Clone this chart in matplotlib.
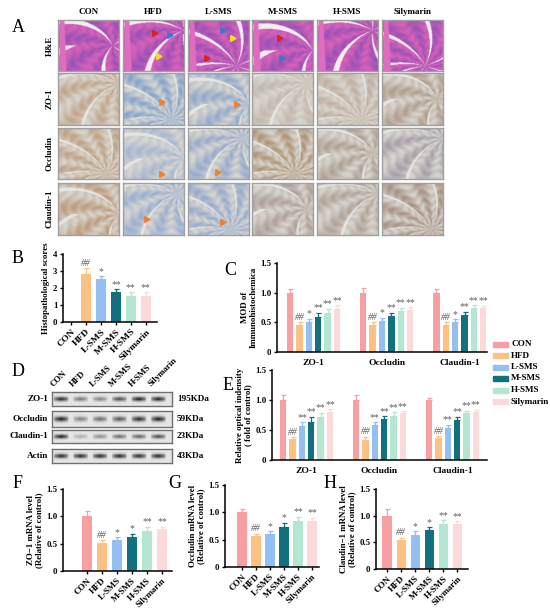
import matplotlib
matplotlib.use('Agg')
import matplotlib.pyplot as plt
import numpy as np
from matplotlib.patches import Rectangle

plt.rcParams['font.family'] = ['Liberation Serif', 'DejaVu Serif']
plt.rcParams['font.weight'] = 'bold'
plt.rcParams['axes.labelweight'] = 'bold'

# ---- data ----
groups = ['CON', 'HFD', 'L-SMS', 'M-SMS', 'H-SMS', 'Silymarin']
colors = ['#F7A0A3', '#FDC283', '#93BFF2', '#12707F', '#B5E6D2', '#FCDADA']
proteins = ['ZO-1', 'Occludin', 'Claudin-1']
stain_rows = ['H&E', 'ZO-1', 'Occludin', 'Claudin-1']

hist_scores = [0.0, 2.85, 2.5, 1.75, 1.55, 1.55]
hist_err = [0.0, 0.3, 0.2, 0.2, 0.22, 0.2]
hist_marks = ['', '##', '*', '**', '**', '**']

mod_vals = [[1.0, 0.45, 0.50, 0.59, 0.65, 0.72],
            [1.0, 0.46, 0.53, 0.61, 0.69, 0.71],
            [1.0, 0.46, 0.50, 0.63, 0.74, 0.75]]
mod_err = [[0.07, 0.05, 0.06, 0.07, 0.08, 0.07],
           [0.08, 0.04, 0.05, 0.05, 0.06, 0.05],
           [0.06, 0.04, 0.05, 0.05, 0.05, 0.03]]
mod_marks = ['', '##', '*', '**', '**', '**']

wb_vals = [[1.0, 0.35, 0.56, 0.64, 0.71, 0.80],
           [1.0, 0.34, 0.58, 0.68, 0.74, 0.78],
           [1.0, 0.36, 0.54, 0.67, 0.78, 0.80]]
wb_err = [[0.08, 0.03, 0.07, 0.08, 0.08, 0.05],
          [0.09, 0.05, 0.05, 0.05, 0.06, 0.03],
          [0.03, 0.04, 0.05, 0.05, 0.04, 0.04]]
wb_marks = ['', '##', '**', '**', '**', '**']

blot_rows = ['ZO-1', 'Occludin', 'Claudin-1', 'Actin']
blot_kda = ['195KDa', '59KDa', '23KDa', '43KDa']
blot_bands = [[0.85, 0.50, 0.45, 0.70, 0.90, 0.88],
              [0.90, 0.45, 0.55, 0.65, 0.85, 0.90],
              [0.90, 0.25, 0.40, 0.55, 0.60, 0.70],
              [0.85, 0.85, 0.85, 0.85, 0.85, 0.85]]

zo1_mrna = [1.0, 0.51, 0.57, 0.62, 0.74, 0.76]
zo1_mrna_err = [0.09, 0.06, 0.05, 0.06, 0.07, 0.05]
occ_mrna = [1.0, 0.56, 0.61, 0.73, 0.85, 0.85]
occ_mrna_err = [0.07, 0.05, 0.04, 0.08, 0.07, 0.05]
cld_mrna = [1.0, 0.54, 0.64, 0.73, 0.84, 0.85]
cld_mrna_err = [0.13, 0.05, 0.07, 0.06, 0.08, 0.05]
mrna_marks = ['', '##', '*', '*', '**', '**']

W, H = 550, 610
fig = plt.figure(figsize=(5.5, 6.1), dpi=100)


def px_axes(x0, y0, x1, y1):
    return fig.add_axes([x0 / W, 1 - y1 / H, (x1 - x0) / W, (y1 - y0) / H])


def ftext(x, y, s, **kw):
    fig.text(x / W, 1 - y / H, s, **kw)


def style(ax):
    for s in ['top', 'right']:
        ax.spines[s].set_visible(False)
    for s in ['left', 'bottom']:
        ax.spines[s].set_linewidth(1.1)
    ax.tick_params(direction='out', length=2.5, width=1, labelsize=6.3, pad=1.5)


def draw_bars(ax, xs, vals, errs, marks, ymax):
    for i in range(len(vals)):
        if vals[i] > 0:
            ax.bar(xs[i], vals[i], width=0.68, color=colors[i], zorder=2)
            ax.errorbar(xs[i], vals[i], yerr=[[0], [errs[i]]], color=colors[i],
                        capsize=1.8, elinewidth=0.9, capthick=0.9, zorder=1)
        if marks[i]:
            ax.text(xs[i], vals[i] + errs[i] + ymax * 0.003, marks[i], ha='center',
                    va='bottom', fontsize=7, color='#606060', fontweight='normal',
                    style='italic' if marks[i] == '##' else 'normal')


def single_panel(rect, vals, errs, marks, xlim, ylabel, ymax=1.5, yticks=(0, 0.5, 1.0, 1.5),
                 yticklabels=('0', '0.5', '1.0', '1.5'), xfs=6.8):
    ax = px_axes(*rect)
    style(ax)
    xs = np.arange(len(vals))
    draw_bars(ax, xs, vals, errs, marks, ymax)
    ax.set_xlim(*xlim)
    ax.set_ylim(0, ymax)
    ax.set_yticks(yticks)
    ax.set_yticklabels(yticklabels)
    ax.set_xticks(xs)
    ax.set_xticklabels(groups, rotation=45, ha='right', rotation_mode='anchor', fontsize=xfs)
    ax.set_ylabel(ylabel, fontsize=6.4, linespacing=1.1, labelpad=2)
    return ax


def group_panel(rect, vals, errs, marks, ylabel, xlim):
    ax = px_axes(*rect)
    style(ax)
    step = 7.8
    for g in range(3):
        xs = g * step + np.arange(6)
        draw_bars(ax, xs, vals[g], errs[g], marks, 1.5)
    ax.set_xticks([g * step + 2.5 for g in range(3)])
    ax.set_xticklabels(proteins, fontsize=6.8)
    ax.tick_params(axis='x', length=0, pad=5)
    ax.set_xlim(*xlim)
    ax.set_ylim(0, 1.5)
    ax.set_yticks([0, 0.5, 1.0, 1.5])
    ax.set_yticklabels(['0', '0.5', '1.0', '1.5'])
    ax.set_ylabel(ylabel, fontsize=6.4, linespacing=1.1, labelpad=2)
    return ax


# ---- panel A: tissue images (decorative texture) ----
def tissue(he, cx, cy, k, c1, c2):
    yy, xx = np.mgrid[0:1:104j, 0:1:122j]
    ang = np.arctan2(yy - cy, xx - cx)
    r = np.hypot(xx - cx, yy - cy)
    s = 0.5 + 0.5 * np.sin(ang * k * 3 + r * 4)
    seg = 0.5 + 0.5 * np.sin(r * 38 + np.sin(ang * k * 3) * 2)
    s = np.clip(0.65 * s + 0.35 * seg, 0, 1)
    lumen = np.abs(np.sin(ang * k * 0.75 + 1.3 + r * 1.5)) < (0.16 if he else 0.09)
    c1 = np.array(matplotlib.colors.to_rgb(c1))
    c2 = np.array(matplotlib.colors.to_rgb(c2))
    img = c1 * (1 - s[..., None]) + c2 * s[..., None]
    img[lumen] = [0.96, 0.93, 0.96] if he else [0.90, 0.90, 0.88]
    if he:
        band = (xx < 0.10 + 0.04 * yy) & (xx > 0.02)
        img[band] = matplotlib.colors.to_rgb('#E06CC0')
    return np.clip(img, 0, 1)


col_x = [58, 123, 188, 252, 317, 382]
row_y = [(20, 71), (73, 125), (128, 179), (183, 235)]
centers = [(0.9, 0.5), (1.0, 0.2), (0.8, 0.9), (1.0, 0.6), (0.9, 0.2), (0.7, 0.9)]
ihc_tint = [['#C2A68C', '#86A4CC', '#94AACB', '#C4B8AE', '#C0B0A2', '#B29E8E'],
            ['#C0A286', '#A8B8D0', '#96ABCC', '#B09478', '#B0A294', '#A8A0A8'],
            ['#BE9C80', '#9AAFD0', '#96ABCE', '#B0A09C', '#B2A498', '#A89284']]
arrows = {(0, 1): [(0.5, 0.75, '#E0201A'), (0.75, 0.7, '#3A78D0'), (0.58, 0.3, '#F4E020')],
          (0, 2): [(0.55, 0.8, '#3A78D0'), (0.72, 0.65, '#F4E020'), (0.3, 0.25, '#E0201A')],
          (0, 3): [(0.45, 0.65, '#E0201A'), (0.48, 0.25, '#3A78D0')],
          (1, 1): [(0.62, 0.45, '#F08030')], (1, 2): [(0.78, 0.4, '#F08030')],
          (2, 1): [(0.62, 0.1, '#F08030')], (2, 2): [(0.48, 0.13, '#F08030')],
          (3, 1): [(0.38, 0.3, '#F08030')], (3, 2): [(0.55, 0.25, '#F08030')]}

for r, (y0, y1) in enumerate(row_y):
    for c, x0 in enumerate(col_x):
        ax = px_axes(x0, y0, x0 + 61, y1)
        cx, cy = centers[(c + r) % 6]
        if r == 0:
            img = tissue(True, cx, cy, 3 + c % 3, '#DA62B8', '#9A52B6')
        else:
            img = tissue(False, cx, cy, 3 + (c + r) % 3, '#D8D6D0', ihc_tint[r - 1][c])
        ax.imshow(img, aspect='auto', interpolation='bilinear')
        ax.set_xticks([])
        ax.set_yticks([])
        for s in ax.spines.values():
            s.set_color('#A0A0A0')
            s.set_linewidth(1)
        for (ax_x, ax_y, col) in arrows.get((r, c), []):
            ax.plot(ax_x, ax_y, marker=(3, 0, 30), ms=5, color=col, transform=ax.transAxes)
        if r == 0:
            ftext(x0 + 30.5, 12, groups[c], ha='center', va='center', fontsize=6.5)
    ftext(50, (y0 + y1) / 2, stain_rows[r], ha='center', va='center', rotation=90, fontsize=6.5)

# ---- panel labels ----
for lab, x, y in [('A', 18, 27), ('B', 18, 258), ('C', 230, 270), ('D', 18, 372),
                  ('E', 228, 385), ('F', 18, 483), ('G', 175, 483), ('H', 330, 483)]:
    ftext(x, y, lab, ha='center', va='center', fontsize=13, fontweight='normal')

# ---- panel B ----
single_panel((63, 254, 157, 322), hist_scores, hist_err, hist_marks, (-0.55, 5.75),
             'Histopathological scores', ymax=4, yticks=[0, 1, 2, 3, 4],
             yticklabels=['0', '1', '2', '3', '4'])

# ---- panel C ----
group_panel((277, 263, 487, 352), mod_vals, mod_err, mod_marks,
            'MOD of\nImmunohistochemica', (-1.4, 2 * 7.8 + 5.4))

# legend
for i, (g, c) in enumerate(zip(groups, colors)):
    yc = 344 + 11.5 * i
    fig.patches.append(Rectangle((493 / W, 1 - (yc + 2.5) / H), 15 / W, 5 / H, color=c,
                                 transform=fig.transFigure, figure=fig))
    ftext(511, yc, g, ha='left', va='center', fontsize=6.6)

# ---- panel D: western blot ----
lane_c = [61 + 19.5 * i for i in range(6)]
blot_y = [(392, 406), (411, 427), (430, 443), (449, 463)]
for i, g in enumerate(groups):
    ftext(lane_c[i] - 6, 388, g, ha='left', va='bottom', rotation=45,
          rotation_mode='anchor', fontsize=6.3)
for r, (y0, y1) in enumerate(blot_y):
    ax = px_axes(52, y0, 172, y1)
    hpx = (y1 - y0) * 3
    yy, xx = np.mgrid[0:1:hpx * 1j, 52:172:360j]
    dark = np.zeros_like(xx)
    for i, lc in enumerate(lane_c):
        lane = np.clip(1 - np.abs(xx - lc) / 7.5, 0, 1) ** 0.4
        dark += blot_bands[r][i] * lane * np.exp(-((yy - 0.5) / 0.16) ** 2)
    img = 0.9 - 0.85 * np.clip(dark, 0, 1)
    ax.imshow(img, cmap='gray', vmin=0, vmax=1, aspect='auto', interpolation='bilinear')
    ax.set_xticks([])
    ax.set_yticks([])
    for s in ax.spines.values():
        s.set_color('#707070')
        s.set_linewidth(1)
    ftext(48, (y0 + y1) / 2, blot_rows[r], ha='right', va='center', fontsize=6.6)
    ftext(177, (y0 + y1) / 2, blot_kda[r], ha='left', va='center', fontsize=6.6)

# ---- panel E ----
group_panel((272, 370, 487, 460), wb_vals, wb_err, wb_marks,
            'Relative optical indensity\n( fold of control)', (-1.2, 2 * 7.8 + 6.2))

# ---- panels F, G, H ----
single_panel((63, 489, 172, 571), zo1_mrna, zo1_mrna_err, mrna_marks, (-1.6, 5.67),
             'ZO\u22121 mRNA level\n(Relative of control)', xfs=6.4)
single_panel((225, 485, 319, 567), occ_mrna, occ_mrna_err, mrna_marks, (-1.2, 5.5),
             'Occludin mRNA level\n(Relative of control)', xfs=6.4)
single_panel((376, 489, 468, 569), cld_mrna, cld_mrna_err, mrna_marks, (-0.8, 5.75),
             'Claudin\u22121 mRNA level\n(Relative of control)', xfs=6.4)

fig.savefig('out.png', dpi=100)
